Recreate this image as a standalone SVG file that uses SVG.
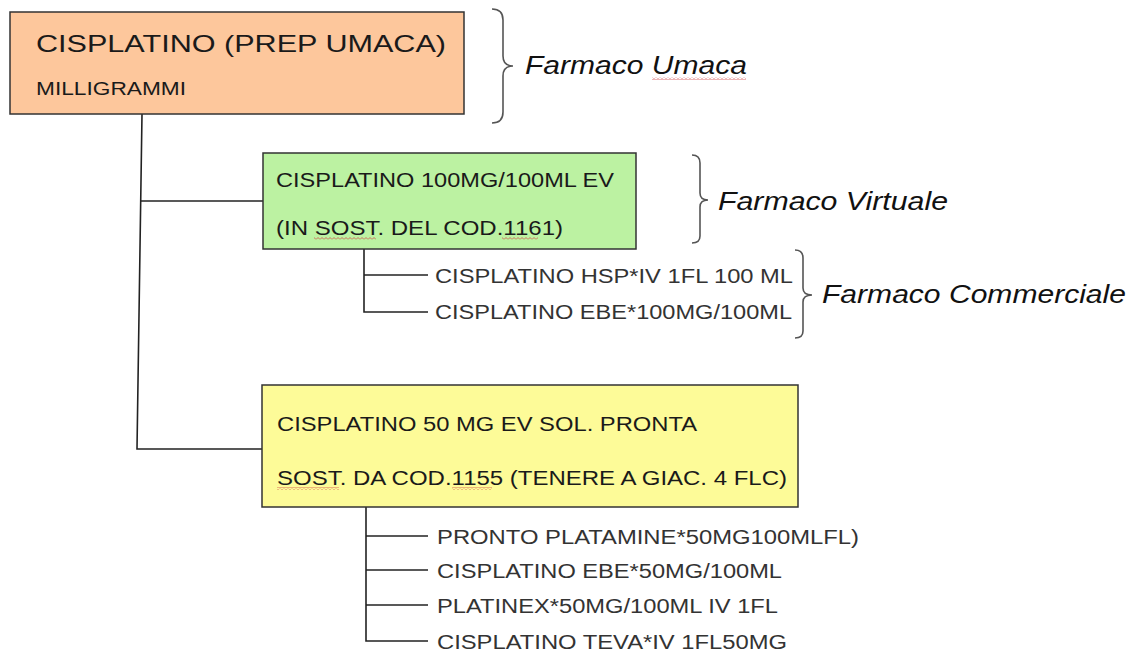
<svg xmlns="http://www.w3.org/2000/svg" width="1138" height="652" viewBox="0 0 1138 652">
<style>
.box{stroke:#333;stroke-width:1.5}
.t{font-family:"Liberation Sans",Arial,sans-serif;fill:#1a1a1a}
.s{font-family:"Liberation Sans",Arial,sans-serif;fill:#333;font-size:20px}
.lab{font-family:"Liberation Sans",Arial,sans-serif;font-style:italic;fill:#111;font-size:25px}
.br{fill:none;stroke:#555;stroke-width:1.6}
.cn{fill:none;stroke:#222;stroke-width:1.6}
</style>
<defs>
<pattern id="wave" width="4" height="3" patternUnits="userSpaceOnUse">
<polyline points="0,2.5 2,0.5 4,2.5" fill="none" stroke="#d04848" stroke-width="0.8"/>
</pattern>
</defs>
<rect width="1138" height="652" fill="#ffffff"/>
<g id="connectors">
<polyline class="cn" points="142,114 137,449 262,449"/>
<line class="cn" x1="141" y1="201" x2="263" y2="201"/>
<polyline class="cn" points="364,249 364,312 428,312"/>
<line class="cn" x1="364" y1="275" x2="428" y2="275"/>
<polyline class="cn" points="366,507 366,641 428,641"/>
<line class="cn" x1="366" y1="536" x2="428" y2="536"/>
<line class="cn" x1="366" y1="570" x2="428" y2="570"/>
<line class="cn" x1="366" y1="605" x2="428" y2="605"/>
</g>
<g id="umaca">
<rect class="box" x="10" y="12" width="454" height="102" fill="#fdc79c"/>
<text class="t" x="36" y="52" font-size="24.5" textLength="410" lengthAdjust="spacingAndGlyphs">CISPLATINO (PREP UMACA)</text>
<text class="t" x="36" y="95" font-size="19" textLength="150" lengthAdjust="spacingAndGlyphs">MILLIGRAMMI</text>
</g>
<g id="virtuale">
<rect class="box" x="263" y="153" width="373" height="96" fill="#bcf2a2"/>
<text class="t" x="276" y="187" font-size="20.5" textLength="338" lengthAdjust="spacingAndGlyphs">CISPLATINO 100MG/100ML EV</text>
<text class="t" x="276" y="235" font-size="20.5" textLength="287" lengthAdjust="spacingAndGlyphs">(IN SOST. DEL COD.1161)</text>
<rect x="314" y="237" width="62" height="3" fill="url(#wave)"/>
<rect x="502" y="237" width="36" height="3" fill="url(#wave)"/>
</g>
<g id="pronta">
<rect class="box" x="262" y="385" width="536" height="122" fill="#fdfb98"/>
<text class="t" x="277" y="431" font-size="20.5" textLength="420" lengthAdjust="spacingAndGlyphs">CISPLATINO 50 MG EV SOL. PRONTA</text>
<text class="t" x="277" y="485" font-size="20.5" textLength="510" lengthAdjust="spacingAndGlyphs">SOST. DA COD.1155 (TENERE A GIAC. 4 FLC)</text>
<rect x="277" y="487" width="62" height="3" fill="url(#wave)"/>
<rect x="452" y="487" width="40" height="3" fill="url(#wave)"/>
</g>
<g id="commerciali1">
<text class="s" x="435" y="283" textLength="358" lengthAdjust="spacingAndGlyphs">CISPLATINO HSP*IV 1FL 100 ML</text>
<text class="s" x="435" y="319" textLength="357" lengthAdjust="spacingAndGlyphs">CISPLATINO EBE*100MG/100ML</text>
</g>
<g id="commerciali2">
<text class="s" x="437" y="544" textLength="422" lengthAdjust="spacingAndGlyphs">PRONTO PLATAMINE*50MG100MLFL)</text>
<text class="s" x="437" y="578" textLength="345" lengthAdjust="spacingAndGlyphs">CISPLATINO EBE*50MG/100ML</text>
<text class="s" x="437" y="613" textLength="341" lengthAdjust="spacingAndGlyphs">PLATINEX*50MG/100ML IV 1FL</text>
<text class="s" x="437" y="649" textLength="350" lengthAdjust="spacingAndGlyphs">CISPLATINO TEVA*IV 1FL50MG</text>
</g>
<g id="label-umaca">
<path class="br" d="M492,9 Q503,9 503,20 L503,56 Q503,66 513,66 Q503,66 503,76 L503,112 Q503,123 492,123"/>
<text class="lab" x="525" y="74" textLength="222" lengthAdjust="spacingAndGlyphs">Farmaco Umaca</text>
<rect x="652" y="77" width="94" height="3" fill="url(#wave)"/>
</g>
<g id="label-virtuale">
<path class="br" d="M692,155 Q700,155 700,163 L700,193 Q700,200 708,200 Q700,200 700,207 L700,236 Q700,243 692,243"/>
<text class="lab" x="718" y="210" textLength="230" lengthAdjust="spacingAndGlyphs">Farmaco Virtuale</text>
</g>
<g id="label-commerciale">
<path class="br" d="M795,250 Q803,250 803,258 L803,288 Q803,295 812,295 Q803,295 803,302 L803,331 Q803,338 795,338"/>
<text class="lab" x="822" y="303" textLength="304" lengthAdjust="spacingAndGlyphs">Farmaco Commerciale</text>
</g>
</svg>
